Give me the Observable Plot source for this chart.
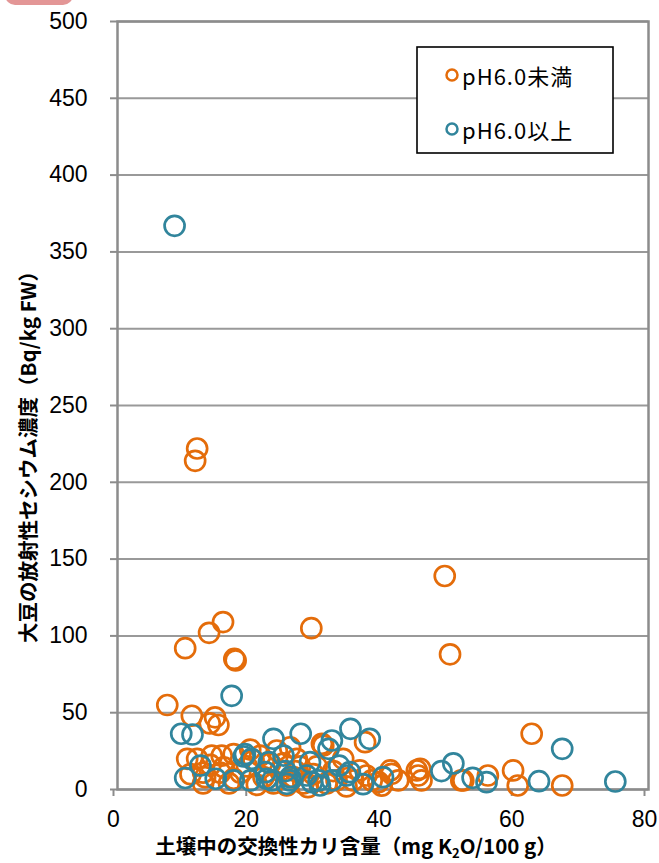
<!DOCTYPE html>
<html><head><meta charset="utf-8">
<script src="https://cdn.jsdelivr.net/npm/d3@7"></script>
<script src="https://cdn.jsdelivr.net/npm/@observablehq/plot@0.6"></script>
<style>
body{margin:0;background:#fff;}
#wrap{position:relative;width:659px;height:863px;overflow:hidden;}
#badge{position:absolute;left:5px;top:-20px;width:68px;height:25px;border-radius:10px;background:#E39696;}
#wrap svg{position:absolute;left:0;top:0;}
</style></head><body><div id="wrap"><div id="badge"></div></div>
<script>
const seriesNames = ["pH6.0未満", "pH6.0以上"];
const seriesColors = ["#E46C0A", "#31859C"];

// pH < 6.0 (orange)
const acidK  = [12.0,11.7,13.8,15.9,17.6,17.8,29.2,49.3,50.1,10.2,7.5,11.2,14.7,15.2,13.9,
  10.5,12.0,14.2,15.7,17.5,20.0,11.0,12.9,16.0,15.5,17.5,16.8,18.5,12.9,14.0,13.2,19.5,20.5,21.5,22.0,21.0,
  24.0,26.0,23.0,24.5,25.5,26.5,27.5,28.0,23.5,27.0,25.0,26.8,29.5,30.8,31.0,30.0,28.7,
  32.5,33.0,34.0,35.5,36.5,37.5,37.3,38.3,39.3,39.8,41.3,42.3,41.1,45.1,45.6,45.3,45.8,31.5,34.5,
  51.8,52.1,55.8,59.6,60.3,62.4,67.0];
const acidCs = [222,214,102,109,85,84,105,139,88,92,55,48,47,42,43,
  20,20,22,22,23,26,10,11,14.5,11,7,4,11,4,16,8,15,19,22,8,3,
  25.4,27.5,17,12,2.6,8,15,4,4,20,17,12,10,29.8,28.6,15,1.5,
  12,6,20,5.9,12.4,9.1,30.8,5.9,4.8,2.5,10.2,5.9,12.4,12.4,13.5,9.1,5.9,4,2,
  5.9,5.9,9.1,12.4,2.6,36.3,2.6];

// pH >= 6.0 (teal)
const neutralK  = [8.6,17.2,9.6,11.3,12.5,10.2,14.8,17.5,19.0,20.2,19.2,23.5,22.8,22.3,22.5,25.0,25.3,25.5,26.0,
  27.6,29.0,28.5,29.3,30.5,30.3,32.3,31.8,33.4,32.3,34.5,35.1,38.0,35.0,37.0,40.0,48.8,50.6,53.5,55.6,63.5,67.0,75.0,20.0,23.3,26.0];
const neutralCs = [367,61,36.3,35.8,15.6,7.5,7,6,21.5,20,23,33,17.8,11.3,7,22.1,12,3.7,8,
  36.3,17.8,9.1,4.8,2.6,5.9,31.9,26.5,15.5,5.9,9.1,39.5,33,11.3,3.5,8,12,17,7.6,4.8,5.4,26.5,5.2,5.9,5.9,5.9];

const xTicks = [0, 20, 40, 60, 80];
const yTicks = [0, 50, 100, 150, 200, 250, 300, 350, 400, 450, 500];

const acid = acidK.map((k, i) => ({k, cs: acidCs[i], s: seriesNames[0]}));
const neutral = neutralK.map((k, i) => ({k, cs: neutralCs[i], s: seriesNames[1]}));

const axisGray = "#8c8c8c";
const tickFont = "'Liberation Sans', Arial, sans-serif";
const plot = Plot.plot({
  width: 659, height: 863,
  marginLeft: 117, marginRight: 11, marginTop: 21, marginBottom: 74,
  style: {fontFamily: tickFont, fontSize: "22px", color: "#000", background: "transparent"},
  x: {domain: [0, 80], label: null},
  y: {domain: [0, 500], label: null},
  marks: [
    Plot.gridY(yTicks, {stroke: "#999", strokeOpacity: 1, strokeWidth: 2}),
    Plot.frame({stroke: axisGray, strokeWidth: 2.5}),
    Plot.axisY(yTicks, {tickSize: 7, tickPadding: 23, stroke: axisGray, strokeWidth: 2, fill: "#000", label: null, tickFormat: d => String(d)}),
    Plot.axisX(xTicks, {tickSize: 7, tickPadding: 14, dx: -4, stroke: axisGray, strokeWidth: 2, fill: "#000", label: null, tickFormat: d => String(d)}),
    Plot.dot(acid, {x: "k", y: "cs", r: 10, stroke: seriesColors[0], strokeWidth: 2.7, fill: "none"}),
    Plot.dot(neutral, {x: "k", y: "cs", r: 10, stroke: seriesColors[1], strokeWidth: 2.7, fill: "none"})
  ]
});
document.getElementById("wrap").appendChild(plot);

const svg = d3.select(plot);
svg.selectAll("text").style("font-size", "23px").style("font-family", tickFont);

const cjk = "'Noto Sans CJK JP', 'Noto Sans', sans-serif";

// y axis title
svg.append("text")
  .attr("transform", "translate(27,452) rotate(-90)")
  .attr("text-anchor", "middle").attr("dominant-baseline", "central")
  .style("font-family", cjk).style("font-weight", "bold").style("font-size", "20.5px")
  .text("大豆の放射性セシウム濃度（Bq/kg FW）");

// x axis title with subscript
const xt = svg.append("text")
  .attr("x", 356).attr("y", 854).attr("text-anchor", "middle")
  .style("font-family", cjk).style("font-weight", "bold").style("font-size", "20.5px");
xt.append("tspan").text("土壌中の交換性カリ含量（mg K");
xt.append("tspan").attr("dy", 4).style("font-size", "13px").text("2");
xt.append("tspan").attr("dy", -4).text("O/100 g）");

// legend
const lg = svg.append("g");
lg.append("rect").attr("x", 417).attr("y", 47).attr("width", 196).attr("height", 106)
  .attr("fill", "#fff").attr("stroke", "#000").attr("stroke-width", 1.6);
seriesNames.forEach((name, i) => {
  const cy = 75 + i * 54;
  lg.append("circle").attr("cx", 452).attr("cy", cy).attr("r", 5.5)
    .attr("fill", "none").attr("stroke", seriesColors[i]).attr("stroke-width", 2.5);
  lg.append("text").attr("x", 462).attr("y", cy).attr("text-anchor", "start")
    .attr("dominant-baseline", "central")
    .style("font-family", cjk).style("font-size", "22px").style("letter-spacing", "1px")
    .text(name);
});
</script>
</body></html>
